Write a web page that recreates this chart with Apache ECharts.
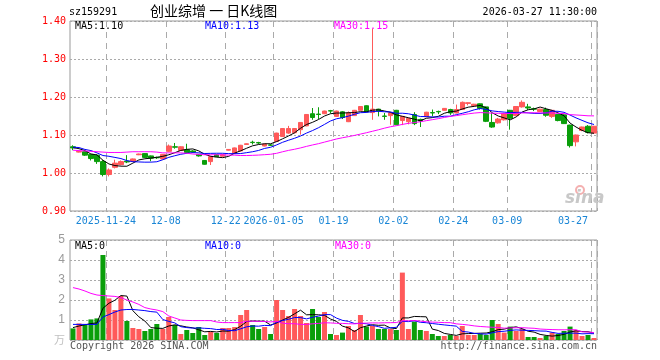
<!DOCTYPE html>
<html><head><meta charset="utf-8">
<script src="https://cdn.jsdelivr.net/npm/echarts@6/dist/echarts.min.js"></script>
<style>html,body{margin:0;padding:0;background:#fff}#c{width:660px;height:360px}</style>
</head><body><div id="c"></div>
<script>
const dates = [
'2025-11-14','2025-11-17','2025-11-18','2025-11-19','2025-11-20','2025-11-21',
'2025-11-24','2025-11-25','2025-11-26','2025-11-27','2025-11-28',
'2025-12-01','2025-12-02','2025-12-03','2025-12-04','2025-12-05',
'2025-12-08','2025-12-09','2025-12-10','2025-12-11','2025-12-12',
'2025-12-15','2025-12-16','2025-12-17','2025-12-18','2025-12-19',
'2025-12-22','2025-12-23','2025-12-24','2025-12-25','2025-12-26',
'2025-12-29','2025-12-30','2025-12-31',
'2026-01-05','2026-01-06','2026-01-07','2026-01-08','2026-01-09',
'2026-01-12','2026-01-13','2026-01-14','2026-01-15','2026-01-16',
'2026-01-19','2026-01-20','2026-01-21','2026-01-22','2026-01-23',
'2026-01-26','2026-01-27','2026-01-28','2026-01-29','2026-01-30',
'2026-02-02','2026-02-03','2026-02-04','2026-02-05','2026-02-06',
'2026-02-09','2026-02-10','2026-02-11','2026-02-12','2026-02-13',
'2026-02-24','2026-02-25','2026-02-26','2026-02-27',
'2026-03-02','2026-03-03','2026-03-04','2026-03-05','2026-03-06',
'2026-03-09','2026-03-10','2026-03-11','2026-03-12','2026-03-13',
'2026-03-16','2026-03-17','2026-03-18','2026-03-19','2026-03-20',
'2026-03-23','2026-03-24','2026-03-25','2026-03-26','2026-03-27'];

const opens = [
1.069,1.055,1.056,1.049,1.047,1.030,0.996,1.015,1.022,1.031,
1.031,1.048,1.051,1.045,1.041,1.037,1.057,1.069,1.059,1.061,
1.058,1.049,1.033,1.030,1.048,1.044,1.060,1.052,1.058,1.075,
1.081,1.080,1.071,1.074,1.083,1.096,1.105,1.106,1.114,1.124,
1.156,1.155,1.156,1.164,1.149,1.161,1.135,1.151,1.165,1.177,
1.159,1.168,1.150,1.151,1.165,1.138,1.135,1.154,1.141,1.148,
1.159,1.162,1.165,1.167,1.158,1.167,1.183,1.177,1.182,1.174,
1.133,1.132,1.140,1.165,1.151,1.174,1.174,1.169,1.162,1.167,
1.149,1.154,1.153,1.126,1.082,1.112,1.123,1.105];
const closes = [
1.066,1.057,1.047,1.038,1.030,0.996,1.008,1.026,1.030,1.029,
1.037,1.050,1.041,1.039,1.040,1.049,1.071,1.068,1.069,1.054,
1.055,1.045,1.023,1.043,1.043,1.048,1.062,1.066,1.073,1.077,
1.080,1.079,1.076,1.073,1.105,1.117,1.117,1.117,1.133,1.154,
1.146,1.154,1.163,1.163,1.163,1.146,1.158,1.165,1.175,1.161,
1.168,1.163,1.149,1.158,1.127,1.149,1.144,1.130,1.137,1.160,
1.158,1.161,1.170,1.158,1.167,1.186,1.185,1.181,1.170,1.136,
1.121,1.142,1.156,1.144,1.175,1.186,1.171,1.168,1.168,1.152,
1.165,1.138,1.130,1.072,1.100,1.121,1.107,1.123];
const lows = [
1.060,1.054,1.045,1.033,1.024,0.991,0.991,1.012,1.020,1.026,
1.029,1.047,1.040,1.031,1.037,1.036,1.055,1.064,1.058,1.052,
1.053,1.043,1.022,1.021,1.042,1.043,1.059,1.050,1.057,1.074,
1.075,1.076,1.070,1.071,1.082,1.095,1.103,1.104,1.101,1.123,
1.140,1.142,1.155,1.157,1.148,1.142,1.134,1.150,1.164,1.160,
1.140,1.149,1.140,1.127,1.126,1.126,1.128,1.126,1.121,1.147,
1.149,1.155,1.164,1.153,1.157,1.166,1.178,1.176,1.167,1.134,
1.119,1.130,1.138,1.114,1.150,1.172,1.166,1.163,1.161,1.148,
1.145,1.136,1.129,1.067,1.070,1.110,1.104,1.104];
const highs = [
1.073,1.058,1.057,1.050,1.049,1.034,1.012,1.035,1.033,1.047,
1.038,1.051,1.052,1.046,1.043,1.050,1.075,1.079,1.070,1.077,
1.060,1.050,1.034,1.045,1.049,1.049,1.063,1.067,1.074,1.078,
1.085,1.082,1.077,1.076,1.106,1.118,1.124,1.118,1.134,1.155,
1.171,1.173,1.164,1.166,1.164,1.163,1.162,1.166,1.176,1.178,
1.380,1.169,1.158,1.159,1.166,1.150,1.145,1.160,1.143,1.161,
1.167,1.164,1.171,1.169,1.180,1.188,1.186,1.182,1.183,1.175,
1.158,1.145,1.158,1.166,1.176,1.191,1.182,1.172,1.169,1.172,
1.166,1.155,1.154,1.127,1.101,1.122,1.126,1.124];

const volumes = [
0.58,0.83,0.75,1.03,1.08,4.25,2.08,1.5,2.2,0.95,
0.6,0.55,0.45,0.55,0.8,0.55,1.15,0.75,0.3,0.5,
0.35,0.65,0.25,0.4,0.35,0.6,0.6,0.65,1.25,1.5,
0.75,0.55,0.65,0.3,2.0,1.5,1.2,1.55,1.2,0.85,
1.55,1.15,1.4,0.3,0.25,0.37,0.7,0.5,1.25,0.67,
0.7,0.55,0.55,0.55,0.5,3.37,0.55,0.92,0.5,0.45,
0.3,0.2,0.2,0.25,0.2,0.7,0.25,0.25,0.3,0.25,
1.0,0.8,0.37,0.67,0.45,0.55,0.15,0.15,0.1,0.2,
0.37,0.3,0.45,0.67,0.5,0.2,0.25,0.1];

// moving-average values before enough history exists
const ma5Head = [1.067,1.064,1.059,1.050];
const ma10Head = [1.068,1.067,1.062,1.059,1.053,1.046,1.044,1.041,1.038];
const ma30Head = [1.060,1.059,1.058,1.057,1.056,1.055,1.054,1.054,1.054,1.055,
  1.056,1.056,1.056,1.056,1.055,1.053,1.053,1.053,1.053,1.052,
  1.050,1.049,1.048,1.048,1.048,1.048,1.047,1.047,1.046];
const volMa5Head = [0.62,0.70,0.76,0.82];
const volMa10Head = [0.78,0.78,0.78,0.78,0.78,1.15,1.27,1.40,1.50];
const volMa30Head = [2.62,2.55,2.45,2.33,2.25,2.22,2.20,2.18,2.12,2.00,
  1.90,1.78,1.62,1.55,1.50,1.42,1.20,1.10,1.00,0.98,
  0.97,0.97,0.97,0.97,0.90,0.87,0.87,0.87,0.87];

const tickDates = ['2025-11-24','2025-12-08','2025-12-22','2026-01-05','2026-01-19','2026-02-02','2026-02-24','2026-03-09','2026-03-27'];
const tickLabels = ['2025-11-24','12-08','12-22','2026-01-05','01-19','02-02','02-24','03-09','03-27'];

const UP = '#ff5a5a', DOWN = '#0a9e0a';
const MONO = 'DejaVu Sans Mono';

function movingAvg(vals, n, head) {
  return vals.map((v, i) => {
    if (i < n - 1) return head[i];
    let s = 0; for (let k = i - n + 1; k <= i; k++) s += vals[k];
    return +(s / n).toFixed(4);
  });
}
const ma5 = movingAvg(closes, 5, ma5Head);
const ma10 = movingAvg(closes, 10, ma10Head);
const ma30 = movingAvg(closes, 30, ma30Head);
const vma5 = movingAvg(volumes, 5, volMa5Head);
const vma10 = movingAvg(volumes, 10, volMa10Head);
const vma30 = movingAvg(volumes, 30, volMa30Head);

const candleData = dates.map((d, i) => [opens[i], closes[i], lows[i], highs[i]]);
const volData = volumes.map((v, i) => ({value: v, itemStyle: {color: closes[i] >= opens[i] ? UP : DOWN}}));
const tickIdx = tickDates.map(d => dates.indexOf(d));
const isTick = (idx) => tickIdx.indexOf(idx) >= 0;
const labelOf = (val) => tickLabels[tickDates.indexOf(val)] || '';

const last = dates.length - 1;
const gridLine = {lineStyle: {color: '#aaa', type: [6, 5], width: 1}};

const chart = echarts.init(document.getElementById('c'), null, {renderer: 'canvas'});
const lineS = (name, data, color, xi) => ({
  name, type: 'line', data, xAxisIndex: xi, yAxisIndex: xi, symbol: 'none',
  lineStyle: {color, width: 1}, itemStyle: {color}, z: 5, silent: true
});
chart.setOption({
  animation: false,
  backgroundColor: '#fff',
  grid: [
    {left: 70, top: 21, width: 527, height: 190, show: true, borderColor: '#999', borderWidth: 1, backgroundColor: 'transparent'},
    {left: 70, top: 240, width: 527, height: 100, show: true, borderColor: '#999', borderWidth: 1, backgroundColor: 'transparent'}
  ],
  xAxis: [
    {type: 'category', gridIndex: 0, data: dates, boundaryGap: true,
     axisLine: {show: false},
     axisTick: {show: true, inside: true, length: 3, interval: isTick, lineStyle: {color: '#aaa'}},
     axisLabel: {interval: isTick, formatter: labelOf, color: '#1a86d6', fontFamily: MONO, fontSize: 10, margin: 5, padding: [0, 6, 0, 0], alignMaxLabel: 'right'},
     splitLine: Object.assign({show: true, interval: isTick}, gridLine)},
    {type: 'category', gridIndex: 1, data: dates, boundaryGap: true,
     axisLine: {show: false}, axisTick: {show: false}, axisLabel: {show: false},
     splitLine: Object.assign({show: true, interval: isTick}, gridLine)}
  ],
  yAxis: [
    {type: 'value', gridIndex: 0, min: 0.9, max: 1.4, interval: 0.1,
     axisLine: {show: false}, axisTick: {show: false},
     axisLabel: {color: '#ff0000', fontFamily: MONO, fontSize: 10, margin: 4, formatter: v => v.toFixed(2)},
     splitLine: {show: true, lineStyle: {color: '#aaa', type: [2, 2], width: 1}}},
    {type: 'value', gridIndex: 1, min: 0, max: 5, interval: 1,
     axisLine: {show: false}, axisTick: {show: false},
     axisLabel: {color: '#9a9a9a', fontFamily: 'Liberation Sans', fontSize: 12, margin: 5, formatter: v => v === 0 ? '' : String(v)},
     splitLine: {show: true, lineStyle: {color: '#aaa', type: [2, 2], width: 1}}}
  ],
  series: [
    {type: 'candlestick', xAxisIndex: 0, yAxisIndex: 0, data: candleData, barWidth: 5, z: 4,
     itemStyle: {color: UP, color0: DOWN, borderColor: UP, borderColor0: DOWN, borderWidth: 1}},
    lineS('MA5', ma5, '#000000', 0),
    lineS('MA10', ma10, '#0000ff', 0),
    lineS('MA30', ma30, '#ff00ff', 0),
    {type: 'bar', xAxisIndex: 1, yAxisIndex: 1, data: volData, barWidth: 5, z: 3},
    lineS('VMA5', vma5, '#000000', 1),
    lineS('VMA10', vma10, '#0000ff', 1),
    lineS('VMA30', vma30, '#ff00ff', 1)
  ],
  graphic: [
    {type: 'text', left: 69, top: 7, style: {text: 'sz159291', font: '10px ' + MONO, fill: '#000'}},
    {type: 'text', left: 150, top: 4, style: {text: '创业综增 一 日K线图', font: '14px "Noto Sans CJK SC"', fill: '#000'}},
    {type: 'text', right: 63, top: 7, style: {text: '2026-03-27 11:30:00', font: '10px ' + MONO, fill: '#000'}},
    {type: 'text', left: 75, top: 21, z: 20, style: {text: 'MA5:' + ma5[last].toFixed(2), font: '10px ' + MONO, fill: '#000'}},
    {type: 'text', left: 205, top: 21, z: 20, style: {text: 'MA10:' + ma10[last].toFixed(2), font: '10px ' + MONO, fill: '#0000ff'}},
    {type: 'text', left: 334, top: 21, z: 20, style: {text: 'MA30:' + ma30[last].toFixed(2), font: '10px ' + MONO, fill: '#ff00ff'}},
    {type: 'text', left: 75, top: 241, z: 20, style: {text: 'MA5:0', font: '10px ' + MONO, fill: '#000'}},
    {type: 'text', left: 205, top: 241, z: 20, style: {text: 'MA10:0', font: '10px ' + MONO, fill: '#0000ff'}},
    {type: 'text', left: 335, top: 241, z: 20, style: {text: 'MA30:0', font: '10px ' + MONO, fill: '#ff00ff'}},
    {type: 'text', left: 54, top: 334, style: {text: '万', font: '11px "Noto Sans CJK SC"', fill: '#c0c0c0'}},
    {type: 'text', left: 70, top: 341, style: {text: 'Copyright 2026 SINA.COM', font: '10px ' + MONO, fill: '#555'}},
    {type: 'text', right: 63, top: 341, style: {text: 'http://finance.sina.com.cn', font: '10px ' + MONO, fill: '#555'}},
    {type: 'circle', shape: {cx: 580, cy: 190, r: 4}, z: 1, style: {fill: 'none', stroke: '#f4b0b0', lineWidth: 2}},
    {type: 'text', left: 565, top: 190, z: 1, style: {text: 'sina', font: 'italic bold 17px "DejaVu Sans"', fill: '#c8c8c8'}}
  ]
});
</script></body></html>
